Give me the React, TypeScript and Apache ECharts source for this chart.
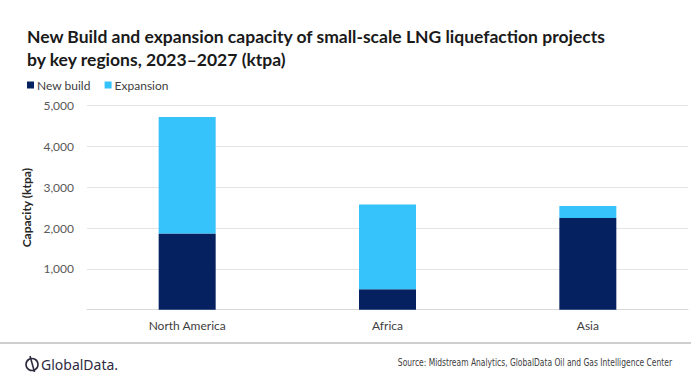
import React, { useEffect, useRef } from "react";
import * as echarts from "echarts";

const categories = ["North America", "Africa", "Asia"];
const newBuild = [1870, 500, 2250];
const expansion = [2850, 2080, 290];
const yTicks = [0, 1000, 2000, 3000, 4000, 5000];

const titleText =
  "New Build and expansion capacity of small-scale LNG liquefaction projects\nby key regions, 2023\u20132027 (ktpa)";
const sourceText =
  "Source: Midstream Analytics, GlobalData Oil and Gas Intelligence Center";

const DARK = "#06215f";
const LIGHT = "#36c2fb";
const FONT = "Lato, 'Open Sans', sans-serif";
const NARROW = "'Liberation Sans Narrow', 'DejaVu Sans Condensed', sans-serif";

export default function App() {
  const ref = useRef<HTMLDivElement>(null);
  useEffect(() => {
    if (!ref.current) return;
    const chart = echarts.init(ref.current, null, { renderer: "svg" });
    chart.setOption({
      animation: false,
      backgroundColor: "#ffffff",
      title: {
        text: titleText,
        left: 22,
        top: 20,
        textStyle: {
          fontFamily: FONT,
          fontWeight: "bold",
          fontSize: 17.5,
          lineHeight: 23,
          color: "#1a1a1a",
        },
      },
      legend: {
        left: 22,
        top: 74,
        icon: "rect",
        itemWidth: 7,
        itemHeight: 7,
        itemGap: 14,
        textStyle: { fontFamily: FONT, fontSize: 12, color: "#404040", padding: [0, 0, 0, -2] },
        data: ["New build", "Expansion"],
      },
      grid: { left: 87, right: 8, top: 105.7, bottom: 82.3, containLabel: false },
      xAxis: {
        type: "category",
        data: categories,
        axisTick: { show: false },
        axisLine: { lineStyle: { color: "#d9d9d9", width: 1 } },
        axisLabel: { fontFamily: FONT, fontSize: 12, color: "#404040", margin: 10 },
      },
      yAxis: {
        type: "value",
        min: yTicks[0],
        max: yTicks[yTicks.length - 1],
        interval: 1000,
        name: "Capacity (ktpa)",
        nameLocation: "middle",
        nameGap: 45,
        nameRotate: 90,
        nameTextStyle: { fontFamily: FONT, fontSize: 12, fontWeight: "bold", color: "#262626" },
        axisLine: { show: false },
        axisTick: { show: false },
        splitLine: { lineStyle: { color: "#e4e4e4", width: 1 } },
        axisLabel: {
          fontFamily: FONT,
          fontSize: 12,
          color: "#595959",
          margin: 13,
          formatter: (v: number) => (v === 0 ? "" : v.toLocaleString("en-US")),
        },
      },
      series: [
        {
          name: "New build",
          type: "bar",
          stack: "total",
          barWidth: 57,
          itemStyle: { color: DARK },
          data: newBuild,
        },
        {
          name: "Expansion",
          type: "bar",
          stack: "total",
          barWidth: 57,
          itemStyle: { color: LIGHT },
          data: expansion,
        },
      ],
      graphic: [
        {
          type: "line",
          shape: { x1: 0, y1: 343, x2: 691, y2: 343 },
          style: { stroke: "#cfcfcf", lineWidth: 2 },
        },
        {
          type: "circle",
          shape: { cx: 32, cy: 364.5, r: 6 },
          style: { fill: "none", stroke: "#2e2a3f", lineWidth: 1.6 },
        },
        {
          type: "line",
          shape: { x1: 30, y1: 356, x2: 34.5, y2: 372 },
          style: { stroke: "#2e2a3f", lineWidth: 1.6 },
        },
        {
          type: "text",
          x: 41,
          y: 364,
          style: {
            text: "GlobalData.",
            fontFamily: "'Noto Sans', sans-serif",
            fontSize: 14,
            fill: "#2e2a3f",
            textVerticalAlign: "middle",
          },
        },
        {
          type: "text",
          x: 672,
          y: 362,
          scaleX: 0.84,
          style: {
            text: sourceText,
            fontFamily: NARROW,
            fontSize: 10,
            fill: "#404040",
            textAlign: "right",
            textVerticalAlign: "middle",
          },
        },
      ],
    });
    return () => chart.dispose();
  }, []);
  return <div ref={ref} style={{ width: 696, height: 392, position: "absolute", left: 0, top: 0 }} />;
}
